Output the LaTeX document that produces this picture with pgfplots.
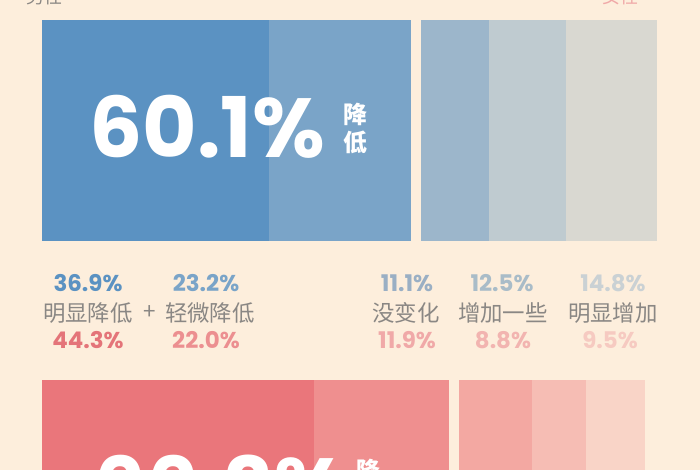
\documentclass[border=0pt]{standalone}
\usepackage{pgfplots}
\pgfplotsset{compat=1.18}
\usepackage{fontspec}
\newfontfamily\num{Poppins}
\newfontfamily\cjk{Noto Sans CJK SC}

\definecolor{bg}{HTML}{FDEEDC}
\definecolor{blueA}{HTML}{5B92C2}
\definecolor{blueB}{HTML}{7AA4C8}
\definecolor{grayA}{HTML}{9CB6CB}
\definecolor{grayB}{HTML}{BFCBD0}
\definecolor{grayC}{HTML}{D9D8D1}
\definecolor{redA}{HTML}{EA767B}
\definecolor{redB}{HTML}{EF8F8F}
\definecolor{pinkA}{HTML}{F3A8A2}
\definecolor{pinkB}{HTML}{F6BDB4}
\definecolor{pinkC}{HTML}{F9D4C7}
\definecolor{txt}{HTML}{8A8784}
\definecolor{lblA}{HTML}{9AAFC4}
\definecolor{lblB}{HTML}{A9BCC8}
\definecolor{lblC}{HTML}{CAD1D4}
\definecolor{rlA}{HTML}{E47479}
\definecolor{rlB}{HTML}{EC8F90}
\definecolor{rlC}{HTML}{F0A9A8}
\definecolor{rlD}{HTML}{F2B4B0}
\definecolor{rlE}{HTML}{F6CAC1}

% 1% = 6.14px, bars start at x=42px; y in px from the top
\pgfplotsset{
  panel/.style={
    at={(0,0)}, anchor=south west,
    width=700bp, height=470bp, scale only axis,
    xmin=-6.84, xmax=107.17,
    ymin=0, ymax=470, y dir=reverse,
    hide axis, clip=true,
    xbar stacked, bar width=221,
  },
  seg/.style={fill=#1, draw=none},
}

\newcommand{\pct}[1]{{\num\bfseries\fontsize{23}{25}\selectfont #1}}
\newcommand{\lab}[1]{{\cjk\fontsize{22.5}{25}\selectfont #1}}
\newcommand{\bignum}[1]{{\num\bfseries\fontsize{84}{84}\selectfont #1}}

\begin{document}
\begin{tikzpicture}
\useasboundingbox (0,0) rectangle (700bp,470bp);
\clip (0,0) rectangle (700bp,470bp);
\fill[bg] (0,0) rectangle (700bp,470bp);

% male
\begin{axis}[panel]
  \addplot[seg=blueA] coordinates {(36.9,130.5)};
  \addplot[seg=blueB] coordinates {(23.2,130.5)};
  \addplot[fill=none, draw=none] coordinates {(1.63,130.5)};
  \addplot[seg=grayA] coordinates {(11.1,130.5)};
  \addplot[seg=grayB] coordinates {(12.5,130.5)};
  \addplot[seg=grayC] coordinates {(14.8,130.5)};

  \node[txt] at (axis cs:0.4,-3) {\cjk\fontsize{18}{18}\selectfont 男性};
  \node[rlC] at (axis cs:94.2,-3) {\cjk\fontsize{18}{18}\selectfont 女性};

  \node[blueA] at (axis cs:7.49,283) {\pct{36.9\%}};
  \node[txt]   at (axis cs:7.49,313) {\lab{明显降低}};
  \node[rlA]   at (axis cs:7.49,340) {\pct{44.3\%}};
  \node[txt]   at (axis cs:17.59,313) {\lab{+}};
  \node[blueB] at (axis cs:26.71,283) {\pct{23.2\%}};
  \node[txt]   at (axis cs:27.36,313) {\lab{轻微降低}};
  \node[rlB]   at (axis cs:26.71,340) {\pct{22.0\%}};

  \node[lblA] at (axis cs:59.45,283) {\pct{11.1\%}};
  \node[txt]  at (axis cs:59.28,313) {\lab{没变化}};
  \node[rlC]  at (axis cs:59.45,340) {\pct{11.9\%}};
  \node[lblB] at (axis cs:74.92,283) {\pct{12.5\%}};
  \node[txt]  at (axis cs:75.08,313) {\lab{增加一些}};
  \node[rlD]  at (axis cs:75.08,340) {\pct{8.8\%}};
  \node[lblC] at (axis cs:92.99,283) {\pct{14.8\%}};
  \node[txt]  at (axis cs:92.99,313) {\lab{明显增加}};
  \node[rlE]  at (axis cs:92.51,340) {\pct{9.5\%}};
\end{axis}

% female
\begin{axis}[panel]
  \addplot[seg=redA]  coordinates {(44.3,490.5)};
  \addplot[seg=redB]  coordinates {(22.0,490.5)};
  \addplot[fill=none, draw=none] coordinates {(1.63,490.5)};
  \addplot[seg=pinkA] coordinates {(11.9,490.5)};
  \addplot[seg=pinkB] coordinates {(8.8,490.5)};
  \addplot[seg=pinkC] coordinates {(9.5,490.5)};
\end{axis}

% big white figures on top of the bars
\tikzset{vtxt/.style={white, align=center, inner sep=0pt,
  font=\cjk\bfseries\fontsize{24}{29}\selectfont}}
\node[white] at (207bp,343bp) {\bignum{60.1\%}};
\node[vtxt] at (355bp,341.5bp) {降\\低};
\node[white] at (220bp,-17bp) {\bignum{66.3\%}};
\node[vtxt] at (368bp,-15bp) {降\\低};
\end{tikzpicture}
\end{document}
